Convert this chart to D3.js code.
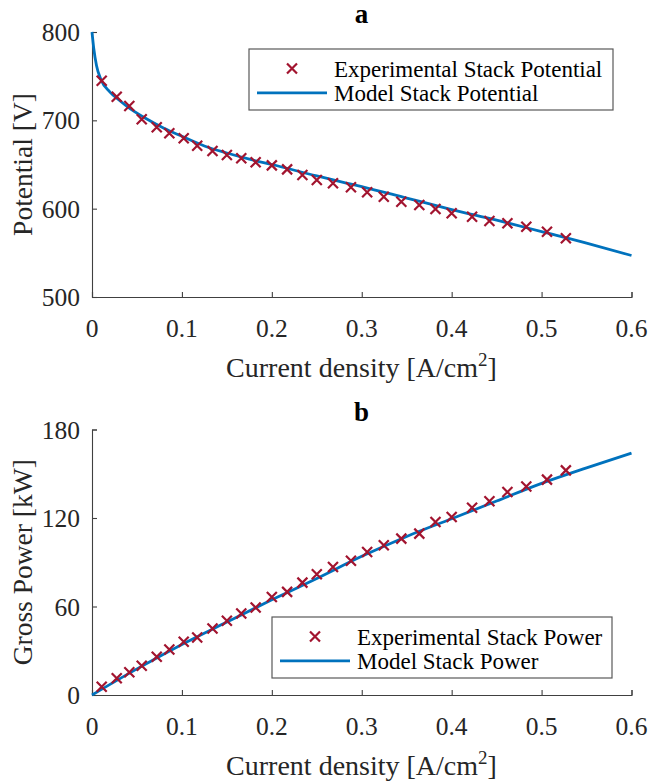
<!DOCTYPE html>
<html>
<head>
<meta charset="utf-8">
<script src="https://cdn.jsdelivr.net/npm/d3@7"></script>
<style>
  html, body { margin: 0; padding: 0; background: #fff; }
  svg { display: block; font-family: "Liberation Serif", "Times New Roman", serif; }
</style>
</head>
<body>
<svg id="fig" width="651" height="784"></svg>
<script>
// Current density [A/cm2] of the measured operating points
const expCurrent = [0.0108, 0.0275, 0.0415, 0.0553, 0.072, 0.086, 0.102, 0.117, 0.134, 0.150,
                    0.166, 0.182, 0.200, 0.217, 0.234, 0.250, 0.268, 0.288, 0.306, 0.3245,
                    0.344, 0.364, 0.382, 0.400, 0.4227, 0.442, 0.462, 0.483, 0.506, 0.527];
// Measured stack potential [V]
const expPotential = [744.9, 726.8, 716.2, 701.2, 692.1, 685.3, 679.7, 671.3, 665.3, 660.8,
                      657.0, 652.5, 649.0, 644.5, 638.1, 632.5, 628.7, 624.2, 618.5, 613.6,
                      607.9, 604.2, 599.6, 594.8, 590.9, 586.0, 583.4, 579.6, 573.9, 566.4];
// Measured gross stack power [kW]
const expPower = [5.6, 11.3, 15.4, 19.8, 25.9, 30.9, 36.1, 39.0, 45.1, 50.3,
                  55.3, 59.3, 66.5, 69.9, 76.2, 81.9, 86.8, 91.0, 97.0, 101.5,
                  106.0, 109.4, 117.3, 120.7, 127.0, 131.3, 137.6, 141.4, 146.0, 152.3];

// Model polarisation curve
const modelCurrentV = [0, 0.002, 0.005, 0.01, 0.02, 0.03, 0.04, 0.06, 0.08, 0.1, 0.125,
                       0.15, 0.175, 0.2, 0.25, 0.3, 0.35, 0.4, 0.45, 0.5, 0.55, 0.6];
const modelPotential = [800, 781, 762, 746, 732, 723, 715, 702, 691, 682, 671,
                        663, 656, 650, 637, 625, 612, 599, 587, 574, 561, 547];
// Model gross power curve
const modelCurrentP = [0, 0.05, 0.1, 0.15, 0.2, 0.25, 0.3, 0.35, 0.4, 0.45, 0.5, 0.55, 0.6];
const modelPower = [0, 17.7, 34.3, 49.5, 64.5, 79, 94, 107.5, 119.5, 131.5, 143.5, 154, 164];

const xTicks = [0, 0.1, 0.2, 0.3, 0.4, 0.5, 0.6];
const potentialTicks = [500, 600, 700, 800];
const powerTicks = [0, 60, 120, 180];

const RED = "#A2142F", BLUE = "#0072BD", AXIS = "#404040";
const svg = d3.select("#fig");

function panel(opt) {
  const x = d3.scaleLinear().domain([0, 0.6]).range([92, 631.5]);
  const y = d3.scaleLinear().domain(opt.yDomain).range([opt.bottom, opt.top]);
  const g = svg.append("g");

  // axes (ticks pointing inward, no box)
  const xa = g.append("g").attr("transform", `translate(0,${opt.bottom})`)
    .call(d3.axisTop(x).tickValues(xTicks).tickSize(5).tickFormat(""));
  const ya = g.append("g").attr("transform", "translate(92,0)")
    .call(d3.axisRight(y).tickValues(opt.yTicks).tickSize(5).tickFormat(""));
  [xa, ya].forEach(a => {
    a.select(".domain").attr("stroke", AXIS).attr("stroke-width", 1.1);
    a.selectAll(".tick line").attr("stroke", AXIS).attr("stroke-width", 1.1);
  });

  // tick labels
  g.selectAll(".xl").data(xTicks).enter().append("text")
    .attr("x", d => x(d)).attr("y", opt.bottom + 40)
    .attr("text-anchor", "middle").attr("font-size", 25.5).attr("fill", "#262626")
    .text(d => d === 0 ? "0" : d3.format(".1f")(d));
  g.selectAll(".yl").data(opt.yTicks).enter().append("text")
    .attr("x", 80).attr("y", d => y(d) + 9)
    .attr("text-anchor", "end").attr("font-size", 25.5).attr("fill", "#262626")
    .text(d => d);

  // axis labels
  const xl = g.append("text").attr("x", 361.5).attr("y", opt.bottom + 80)
    .attr("text-anchor", "middle").attr("font-size", 28).attr("fill", "#262626");
  xl.append("tspan").text("Current density [A/cm");
  xl.append("tspan").attr("font-size", 19).attr("dy", -11).text("2");
  xl.append("tspan").attr("dy", 11).text("]");
  g.append("text")
    .attr("transform", `translate(32,${(opt.top + opt.bottom) / 2}) rotate(-90)`)
    .attr("text-anchor", "middle").attr("font-size", 27.5).attr("fill", "#262626")
    .text(opt.yLabel);

  // title
  g.append("text").attr("x", 361.5).attr("y", opt.top - 9)
    .attr("text-anchor", "middle").attr("font-size", 27).attr("font-weight", "bold")
    .attr("fill", "#000").text(opt.title);

  // model line
  const line = d3.line().x(d => x(d[0])).y(d => y(d[1])).curve(d3.curveMonotoneX);
  g.append("path").datum(d3.zip(opt.mx, opt.my))
    .attr("d", line).attr("fill", "none").attr("stroke", BLUE)
    .attr("stroke-width", 2.8).attr("stroke-linejoin", "round");

  // experimental markers
  const s = 5;
  const cross = (px, py) => `M${px - s},${py - s}L${px + s},${py + s}M${px - s},${py + s}L${px + s},${py - s}`;
  g.append("g").selectAll("path").data(d3.zip(expCurrent, opt.ey)).enter().append("path")
    .attr("d", d => cross(x(d[0]), y(d[1])))
    .attr("stroke", RED).attr("stroke-width", 2.2).attr("fill", "none");

  // legend
  const L = opt.legend;
  g.append("rect").attr("x", L.x).attr("y", L.y).attr("width", L.w).attr("height", L.h)
    .attr("fill", "#fff").attr("stroke", "#595959").attr("stroke-width", 1.2);
  const r1 = L.y + L.h * 0.32, r2 = L.y + L.h * 0.72;
  g.append("path").attr("d", cross(L.x + 43, r1))
    .attr("stroke", RED).attr("stroke-width", 2.2).attr("fill", "none");
  g.append("line").attr("x1", L.x + 8).attr("x2", L.x + 78).attr("y1", r2).attr("y2", r2)
    .attr("stroke", BLUE).attr("stroke-width", 2.8);
  g.append("text").attr("x", L.x + 85).attr("y", r1 + 8).attr("font-size", 23)
    .attr("fill", "#000").text(L.t1);
  g.append("text").attr("x", L.x + 85).attr("y", r2 + 8).attr("font-size", 23)
    .attr("fill", "#000").text(L.t2);
}

panel({
  top: 32, bottom: 297, yDomain: [500, 800], yTicks: potentialTicks,
  yLabel: "Potential [V]", title: "a",
  mx: modelCurrentV, my: modelPotential, ey: expPotential,
  legend: { x: 249, y: 49, w: 364, h: 61,
            t1: "Experimental Stack Potential", t2: "Model Stack Potential" }
});
panel({
  top: 429.5, bottom: 695, yDomain: [0, 180], yTicks: powerTicks,
  yLabel: "Gross Power [kW]", title: "b",
  mx: modelCurrentP, my: modelPower, ey: expPower,
  legend: { x: 272, y: 617, w: 340, h: 61,
            t1: "Experimental Stack Power", t2: "Model Stack Power" }
});
</script>
</body>
</html>
